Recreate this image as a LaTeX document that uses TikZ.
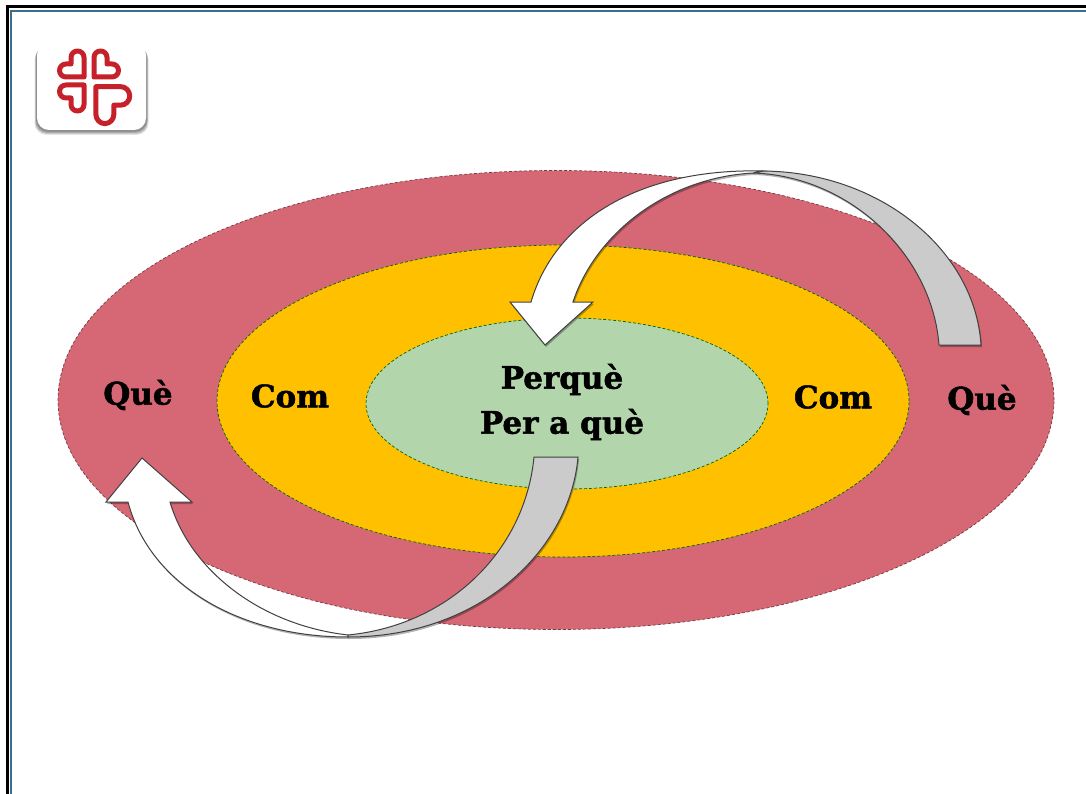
\documentclass[tikz,border=0pt]{standalone}
\usepackage{fontspec}
\setmainfont{DejaVu Serif}[BoldFont={DejaVu Serif Bold},BoldFeatures={FakeBold=1.5}]
\usetikzlibrary{shapes.geometric}
\definecolor{ringred}{HTML}{D66875}
\definecolor{ringorange}{HTML}{FFC000}
\definecolor{ringgreen}{HTML}{B3D5AC}
\definecolor{logored}{HTML}{C6212B}
\definecolor{framblue}{HTML}{3F6E8C}
\definecolor{bandgrey}{HTML}{CBCBCB}
\tikzset{
  ring/.style={ellipse,inner sep=0pt,draw=#1,line width=0.7pt,densely dashed},
  label/.style={font=\bfseries\fontsize{31}{45}\selectfont,text=black,align=center,inner sep=0pt},
  band/.style={draw=black!75,line width=1pt,line join=miter},
  shade/.style={fill=black,opacity=0.3,draw=none},
  heart/.style={draw=logored,line width=5pt,line join=round,fill=white}
}
\newcommand{\heartpath}{(-5,-4) -- (-5,-23.5) .. controls (-5,-27.1) and (-7.9,-30) .. (-11.5,-30) .. controls (-15.1,-30) and (-18,-27.1) .. (-18,-23.5) -- (-18,-17) -- (-23,-17) .. controls (-26.6,-17) and (-29.5,-14.1) .. (-29.5,-10.5) .. controls (-29.5,-6.9) and (-26.6,-4) .. (-23,-4) -- cycle}
\newcommand{\topwhite}{(763,171) .. controls (640,168) and (555,220) .. (531,302) -- (510,302) -- (545,345) -- (593,302) -- (573,302) .. controls (595,235) and (665,178) .. (753,173) -- cycle}
\newcommand{\topgrey}{(981,345) -- (939,345) .. controls (932,255) and (850,176) .. (753,173) -- (763,171) .. controls (880,172) and (975,250) .. cycle}
\newcommand{\botgrey}{(534,457) -- (578,457) .. controls (570,550) and (480,637) .. (348,637) -- (348,635) .. controls (450,625) and (525,550) .. cycle}
\newcommand{\botwhite}{(348,637) .. controls (240,637) and (150,585) .. (128,502) -- (106,502) -- (142,458) -- (192,502) -- (170,502) .. controls (190,570) and (260,625) .. (348,635) -- cycle}
\begin{document}
\begin{tikzpicture}[x=1pt,y=-1pt]
\useasboundingbox (0,0) rectangle (1086,794);
\fill[white] (0,0) rectangle (1086,794);
% frame
\draw[black,line width=2.5pt] (7.5,794) -- (7.5,6.5) -- (1086,6.5);
\draw[framblue,line width=1.2pt] (11,794) -- (11,11) -- (1086,11);
% logo
\foreach \o/\d in {0.10/5,0.12/4,0.14/3,0.16/2}
  \fill[black,opacity=\o,rounded corners=12pt] (37-\d/2,43+\d) rectangle (146+\d/2,130+\d);
\fill[white,rounded corners=12pt] (37,43) rectangle (146,130);
\begin{scope}[shift={(89,81)}]
  \draw[heart] \heartpath;
  \begin{scope}[xscale=-1] \draw[heart] \heartpath; \end{scope}
  \begin{scope}[yscale=-1] \draw[heart] \heartpath; \end{scope}
  \begin{scope}[xscale=-1.38,yscale=-1.42] \draw[heart,line width=5pt] \heartpath; \end{scope}
\end{scope}
% rings
\node[ring=ringred!55!black,fill=ringred,minimum width=996pt,minimum height=459pt] (outer) at (556,400) {};
\node[ring=black!60!green,fill=ringorange,minimum width=692pt,minimum height=312pt] (middle) at (563,401) {};
\node[ring=black!60!green,fill=ringgreen,minimum width=402pt,minimum height=171pt] (inner) at (567,403.5) {};
% arrows
\begin{scope}[shift={(1,2)}]
  \fill[shade] \topgrey; \fill[shade] \botgrey; \fill[shade] \topwhite; \fill[shade] \botwhite;
\end{scope}
\draw[band,fill=bandgrey] \topgrey;
\draw[band,fill=white] \topwhite;
\draw[band,fill=white] \botwhite;
\draw[band,fill=bandgrey] \botgrey;
% labels
\node[label] (que1) at (138,395) {Què};
\node[label] (com1) at (290,396) {Com};
\node[label] (per) at (562,402) {Perquè\\Per a què};
\node[label] (com2) at (833,397) {Com};
\node[label] (que2) at (982,400) {Què};
\end{tikzpicture}
\end{document}
